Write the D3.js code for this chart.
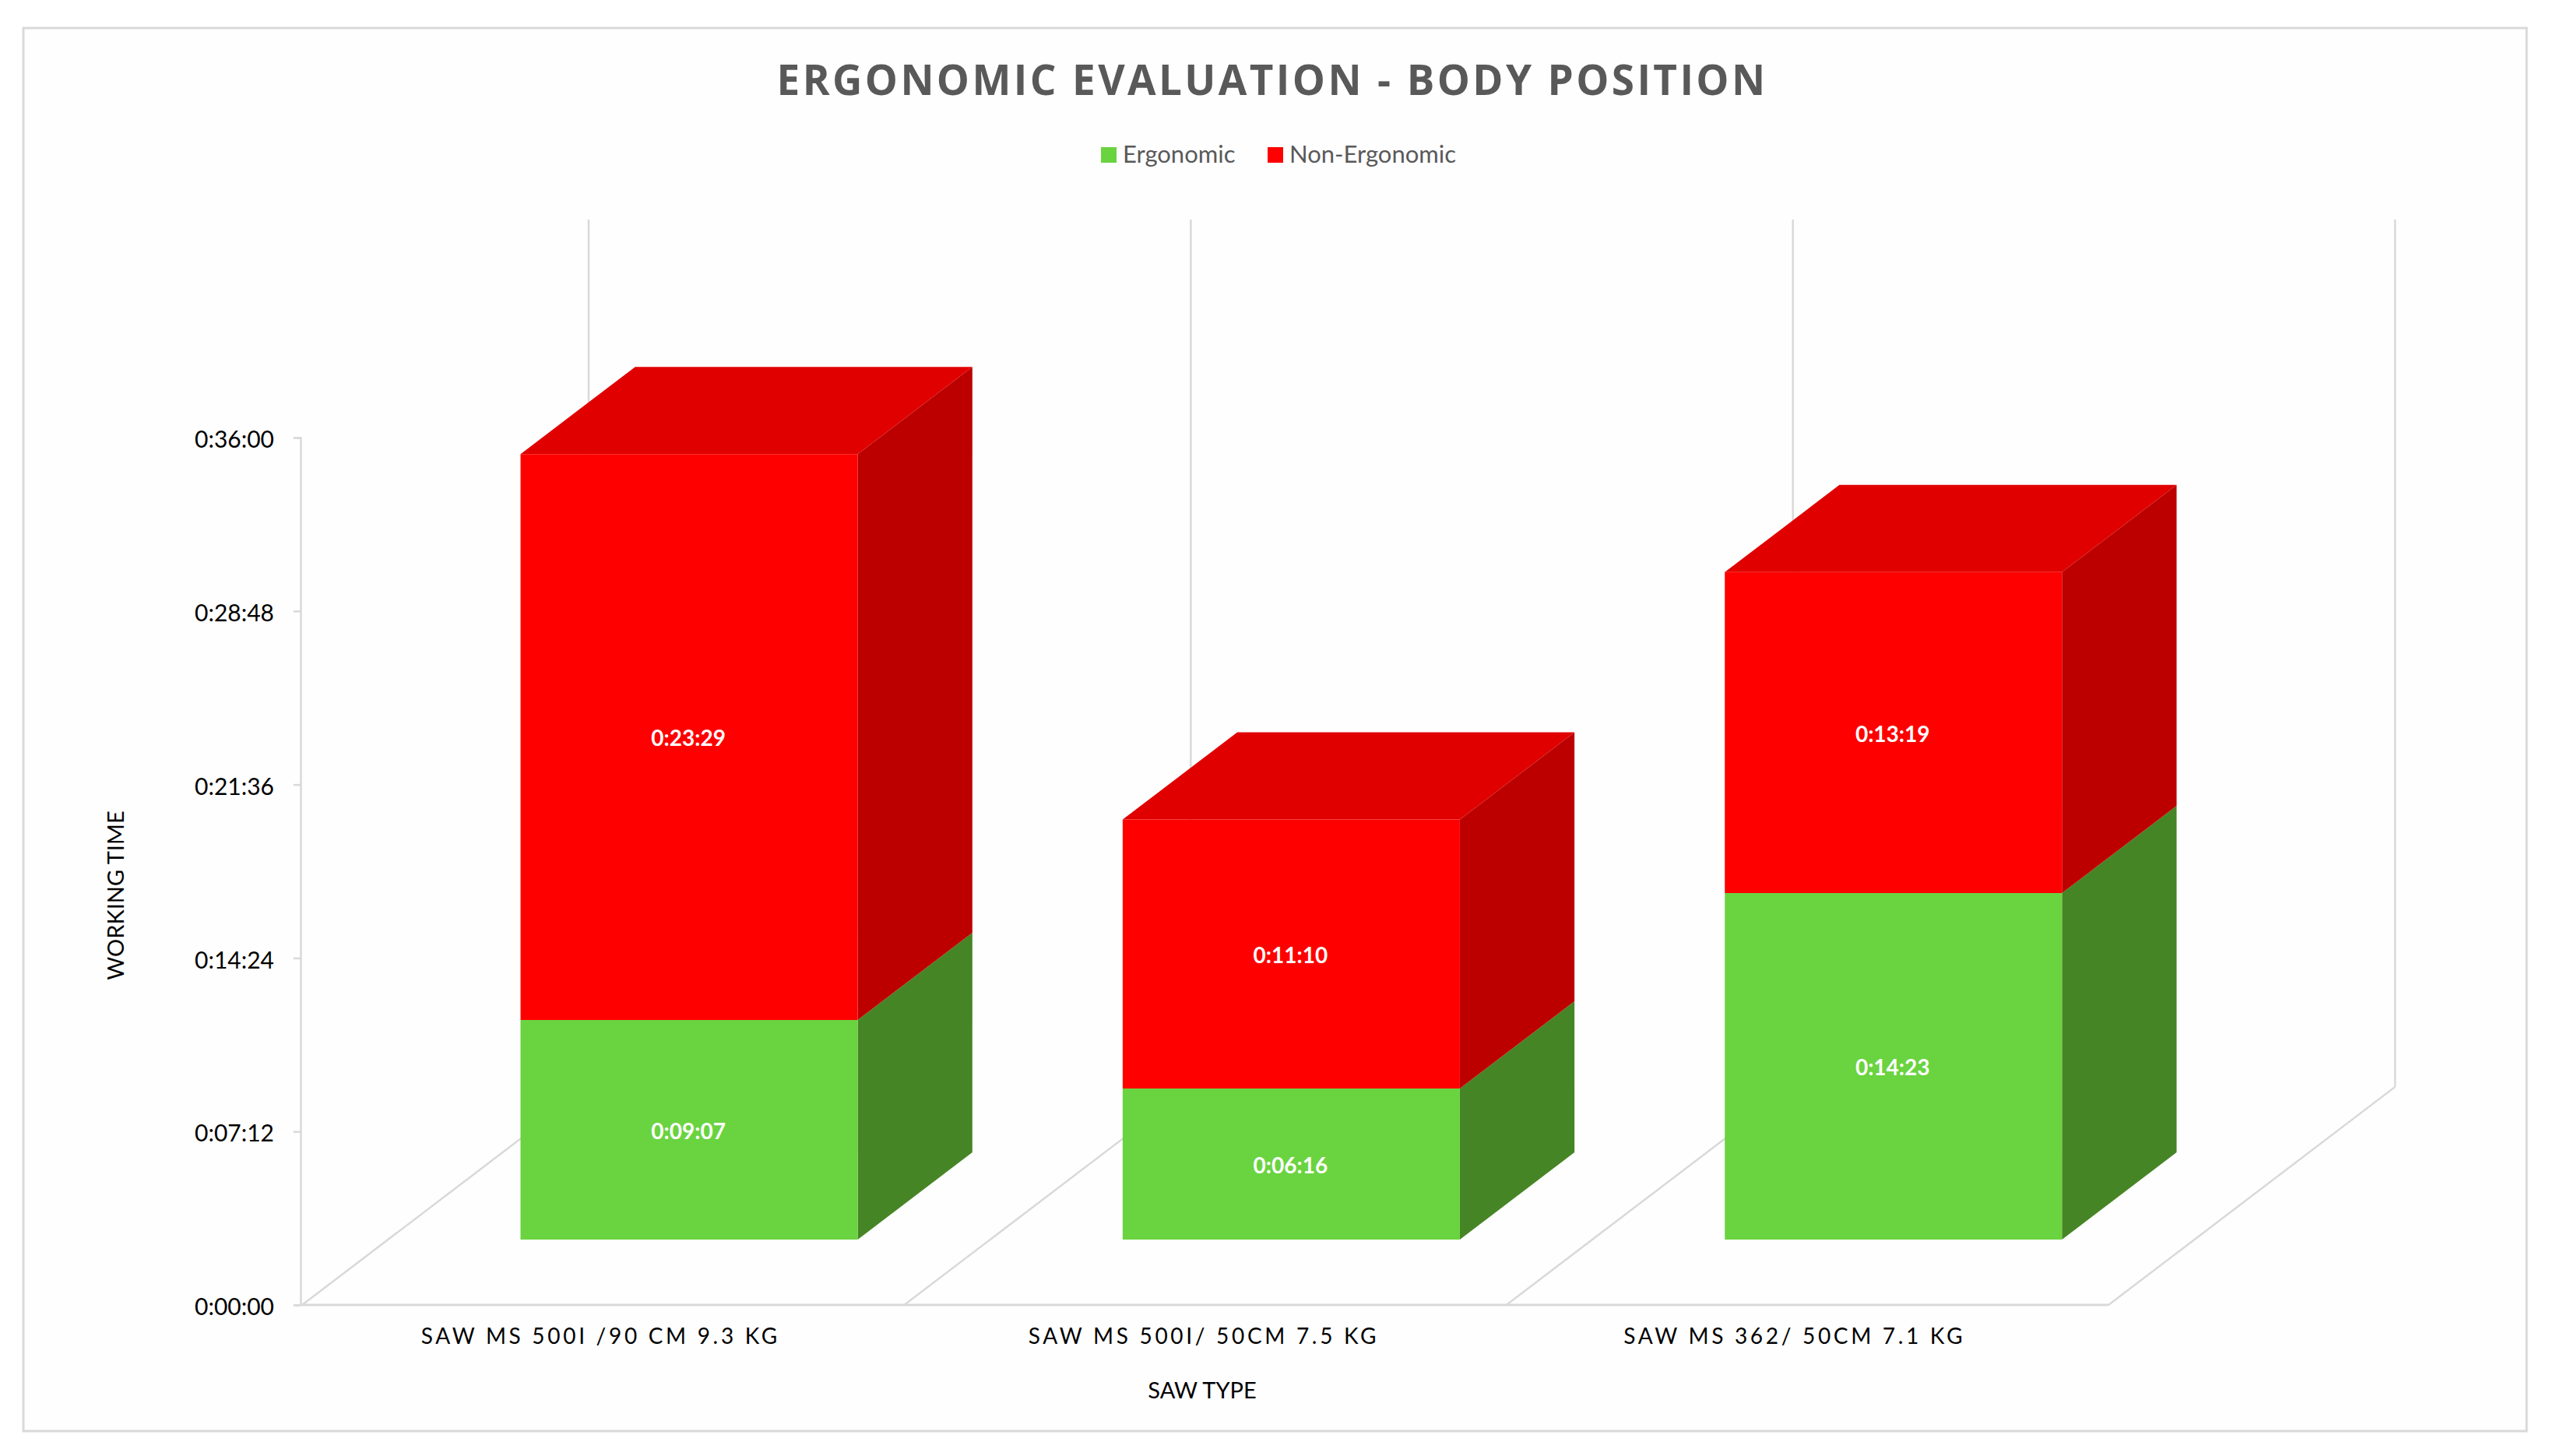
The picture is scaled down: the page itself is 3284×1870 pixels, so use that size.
<!DOCTYPE html>
<html>
<head>
<meta charset="utf-8">
<script src="https://cdnjs.cloudflare.com/ajax/libs/d3/7.8.5/d3.min.js"></script>
<style>
  html, body { margin: 0; padding: 0; background: #fff; }
  svg { display: block; }
</style>
</head>
<body>
<div id="chart"></div>
<script>
var categories = ["SAW MS 500I /90 CM 9.3 KG", "SAW MS 500I/ 50CM 7.5 KG", "SAW MS 362/ 50CM 7.1 KG"]
var ergonomic = [547, 376, 863]
var nonErgonomic = [1409, 670, 799]
var seriesNames = ["Ergonomic", "Non-Ergonomic"]
var tickValues = [0, 432, 864, 1296, 1728, 2160]

var width = 3284
var height = 1870

var frontColor = { "Ergonomic": "#6ad340", "Non-Ergonomic": "#ff0000" }
var sideColor = { "Ergonomic": "#468525", "Non-Ergonomic": "#bc0000" }
var topColor = "#e00000"
var gridColor = "#d9d9d9"

// floor goes back by this much from the front edge to the back wall
var depthX = 368
var depthY = -280
var barFront = 0.3
var barBack = 0.7

var svg = d3.select("#chart")
  .append("svg")
  .attr("width", width)
  .attr("height", height)

svg.append("rect")
  .attr("x", 30).attr("y", 36)
  .attr("width", 3215).attr("height", 1802)
  .attr("fill", "#fefefe")
  .attr("stroke", gridColor)
  .attr("stroke-width", 3)

var x = d3.scaleBand()
  .domain(categories)
  .range([388, 2708])
  .paddingInner(0.44)
  .paddingOuter(0.22)

var y = d3.scaleLinear()
  .domain([0, 2160])
  .range([1676, 562])

// category labels are not quite centred under the floor sections in the original
var xLabels = d3.scaleBand()
  .domain(categories)
  .range([388, 2688])
var labelShift = [0, 8, 0]

function project(px, value, depth) {
  return [px + depth * depthX, y(value) + depth * depthY]
}

function clock(s) {
  var m = Math.floor(s / 60)
  var sec = s % 60
  return "0:" + d3.format("02")(m) + ":" + d3.format("02")(sec)
}

var polygon = d3.line()

// floor and back wall
var edges = [388].concat(categories.map(function (c) { return x(c) + x.bandwidth() + x.step() * 0.22 }))

var walls = svg.append("g")
  .attr("fill", "none")
  .attr("stroke", gridColor)
  .attr("stroke-width", 2.5)

walls.selectAll(".floor")
  .data(edges)
  .enter()
  .append("path")
  .attr("d", function (d) { return polygon([project(d, 0, 0), project(d, 0, 1)]) })

walls.selectAll(".wall")
  .data(edges)
  .enter()
  .append("path")
  .attr("d", function (d) { return polygon([project(d, 0, 1), project(d, 2160, 1)]) })

walls.append("path")
  .attr("d", polygon([project(388, 0, 0), project(2708, 0, 0)]))
  .attr("stroke-width", 3)

// y axis
var yAxis = svg.append("g")
  .attr("transform", "translate(386,0)")
  .call(d3.axisLeft(y).tickValues(tickValues).tickFormat(clock).tickSize(9).tickPadding(25))

yAxis.selectAll("line, path").attr("stroke", gridColor).attr("stroke-width", 2.5)
yAxis.selectAll("text")
  .attr("font-family", "Lato")
  .attr("font-size", 30)
  .attr("y", 3)
  .attr("fill", "#000")

// x axis labels
var xAxis = svg.append("g")
  .attr("transform", "translate(0,1676)")
  .call(d3.axisBottom(xLabels).tickSize(0).tickPadding(30))

xAxis.select("path").remove()
xAxis.selectAll("text")
  .attr("dx", function (d, i) { return labelShift[i] })
  .attr("font-family", "Lato")
  .attr("font-size", 28)
  .attr("letter-spacing", 3.7)
  .attr("fill", "#000")

// bars
var table = categories.map(function (c, i) {
  return { category: c, "Ergonomic": ergonomic[i], "Non-Ergonomic": nonErgonomic[i] }
})
var stacked = d3.stack().keys(seriesNames)(table)

var layers = svg.selectAll(".layer")
  .data(stacked)
  .enter()
  .append("g")
  .attr("class", "layer")

layers.selectAll(".side")
  .data(function (s) { return s.map(function (d) { return { key: s.key, d: d } }) })
  .enter()
  .append("path")
  .attr("fill", function (b) { return sideColor[b.key] })
  .attr("d", function (b) {
    var right = x(b.d.data.category) + x.bandwidth()
    return polygon([
      project(right, b.d[0], barFront),
      project(right, b.d[0], barBack),
      project(right, b.d[1], barBack),
      project(right, b.d[1], barFront)
    ]) + "Z"
  })

svg.append("g")
  .selectAll("path")
  .data(stacked[stacked.length - 1])
  .enter()
  .append("path")
  .attr("fill", topColor)
  .attr("d", function (d) {
    var left = x(d.data.category)
    var right = left + x.bandwidth()
    return polygon([
      project(left, d[1], barFront),
      project(left, d[1], barBack),
      project(right, d[1], barBack),
      project(right, d[1], barFront)
    ]) + "Z"
  })

var faces = svg.selectAll(".faces")
  .data(stacked)
  .enter()
  .append("g")

faces.selectAll("path")
  .data(function (s) { return s.map(function (d) { return { key: s.key, d: d } }) })
  .enter()
  .append("path")
  .attr("fill", function (b) { return frontColor[b.key] })
  .attr("d", function (b) {
    var left = x(b.d.data.category)
    var right = left + x.bandwidth()
    return polygon([
      project(left, b.d[0], barFront),
      project(right, b.d[0], barFront),
      project(right, b.d[1], barFront),
      project(left, b.d[1], barFront)
    ]) + "Z"
  })

faces.selectAll("text")
  .data(function (s) { return s.map(function (d) { return { key: s.key, d: d } }) })
  .enter()
  .append("text")
  .text(function (b) { return clock(b.d[1] - b.d[0]) })
  .attr("x", function (b) { return project(x(b.d.data.category) + x.bandwidth() / 2, 0, barFront)[0] - 1 })
  .attr("y", function (b) { return project(0, (b.d[0] + b.d[1]) / 2, barFront)[1] + 2 })
  .attr("dy", "0.35em")
  .attr("text-anchor", "middle")
  .attr("font-family", "Lato")
  .attr("font-weight", "bold")
  .attr("font-size", 28)
  .attr("fill", "#fff")

// title, legend, axis titles
svg.append("text")
  .text("ERGONOMIC EVALUATION - BODY POSITION")
  .attr("x", 1634)
  .attr("y", 122)
  .attr("text-anchor", "middle")
  .attr("font-family", "Open Sans")
  .attr("font-weight", "bold")
  .attr("font-size", 53)
  .attr("letter-spacing", 3.4)
  .attr("fill", "#595959")

var legendX = [1414, 1628]
var legend = svg.selectAll(".legend")
  .data(seriesNames)
  .enter()
  .append("g")
  .attr("transform", function (d, i) { return "translate(" + legendX[i] + ",189)" })

legend.append("rect")
  .attr("width", 20)
  .attr("height", 20)
  .attr("fill", function (d) { return frontColor[d] })

legend.append("text")
  .text(function (d) { return d })
  .attr("x", 28)
  .attr("y", 20)
  .attr("font-family", "Lato")
  .attr("font-size", 31)
  .attr("fill", "#595959")

svg.append("text")
  .text("SAW TYPE")
  .attr("x", 1544)
  .attr("y", 1796)
  .attr("text-anchor", "middle")
  .attr("font-family", "Lato")
  .attr("font-size", 29)
  .attr("fill", "#000")

svg.append("text")
  .text("WORKING TIME")
  .attr("transform", "translate(159,1150) rotate(-90)")
  .attr("text-anchor", "middle")
  .attr("font-family", "Lato")
  .attr("font-size", 29)
  .attr("fill", "#000")
</script>
</body>
</html>
